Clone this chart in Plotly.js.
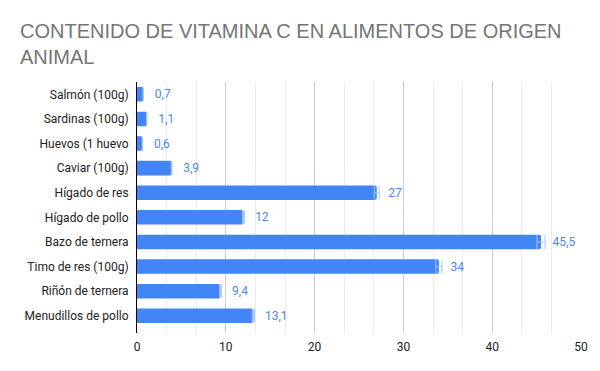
<!DOCTYPE html>
<html>
<head>
<meta charset="utf-8">
<script src="https://cdn.plot.ly/plotly-3.0.1.min.js"></script>
<style>html,body{margin:0;padding:0;background:#fff;}#chart{width:600px;height:371px;}</style>
</head>
<body>
<div id="chart"></div>
<script>
const categories = ["Salmón (100g)", "Sardinas (100g)", "Huevos (1 huevo", "Caviar (100g)", "Hígado de res", "Hígado de pollo", "Bazo de ternera", "Timo de res (100g)", "Riñón de ternera", "Menudillos de pollo"];
const values = [0.7, 1.1, 0.6, 3.9, 27, 12, 45.5, 34, 9.4, 13.1];
const xTicks = [0, 10, 20, 30, 40, 50];

const labels = values.map(v => '\u2002\u2009' + String(v).replace('.', ','));

const trace = {
  type: 'bar',
  orientation: 'h',
  y: categories,
  x: values,
  marker: {color: '#4285F4', cornerradius: 2},
  text: labels,
  textposition: 'outside',
  cliponaxis: false,
  textfont: {family: 'Roboto, Arial, sans-serif', size: 12, color: '#4a86f0'},
  error_x: {type: 'percent', value: 1, color: '#a8c7fa', thickness: 1, width: 7},
  hoverinfo: 'none'
};

const layout = {
  width: 600, height: 371,
  margin: {l: 137, r: 19, t: 82, b: 38},
  paper_bgcolor: '#ffffff', plot_bgcolor: '#ffffff',
  showlegend: false,
  bargap: 0.41,
  title: {
    text: 'CONTENIDO DE VITAMINA C EN ALIMENTOS DE ORIGEN<br>ANIMAL',
    font: {family: 'Liberation Sans, Arial, sans-serif', size: 20, color: '#757575'},
    x: 20/600, xref: 'container', xanchor: 'left',
    y: 1 - 38/371, yref: 'container', yanchor: 'top'
  },
  xaxis: {
    range: [0, 50],
    tickvals: xTicks, ticktext: xTicks.map(String),
    showgrid: true, gridcolor: '#cccccc', gridwidth: 1,
    minor: {dtick: 10/3, tick0: 0, showgrid: true, gridcolor: '#ebebeb', gridwidth: 1},
    zeroline: false, showline: false,
    ticks: 'outside', ticklen: 3, tickcolor: 'rgba(0,0,0,0)',
    tickfont: {family: 'Roboto, Arial, sans-serif', size: 12, color: '#222222'},
    fixedrange: true
  },
  yaxis: {
    type: 'category',
    range: [9.7, -0.5],
    showgrid: false, zeroline: false,
    showline: true, linecolor: '#000000', linewidth: 1,
    ticks: 'outside', ticklen: 5, tickcolor: 'rgba(0,0,0,0)',
    tickfont: {family: 'Roboto, Arial, sans-serif', size: 12, color: '#222222'},
    fixedrange: true
  }
};

Plotly.newPlot('chart', [trace], layout, {displayModeBar: false, staticPlot: true});
</script>
</body>
</html>
